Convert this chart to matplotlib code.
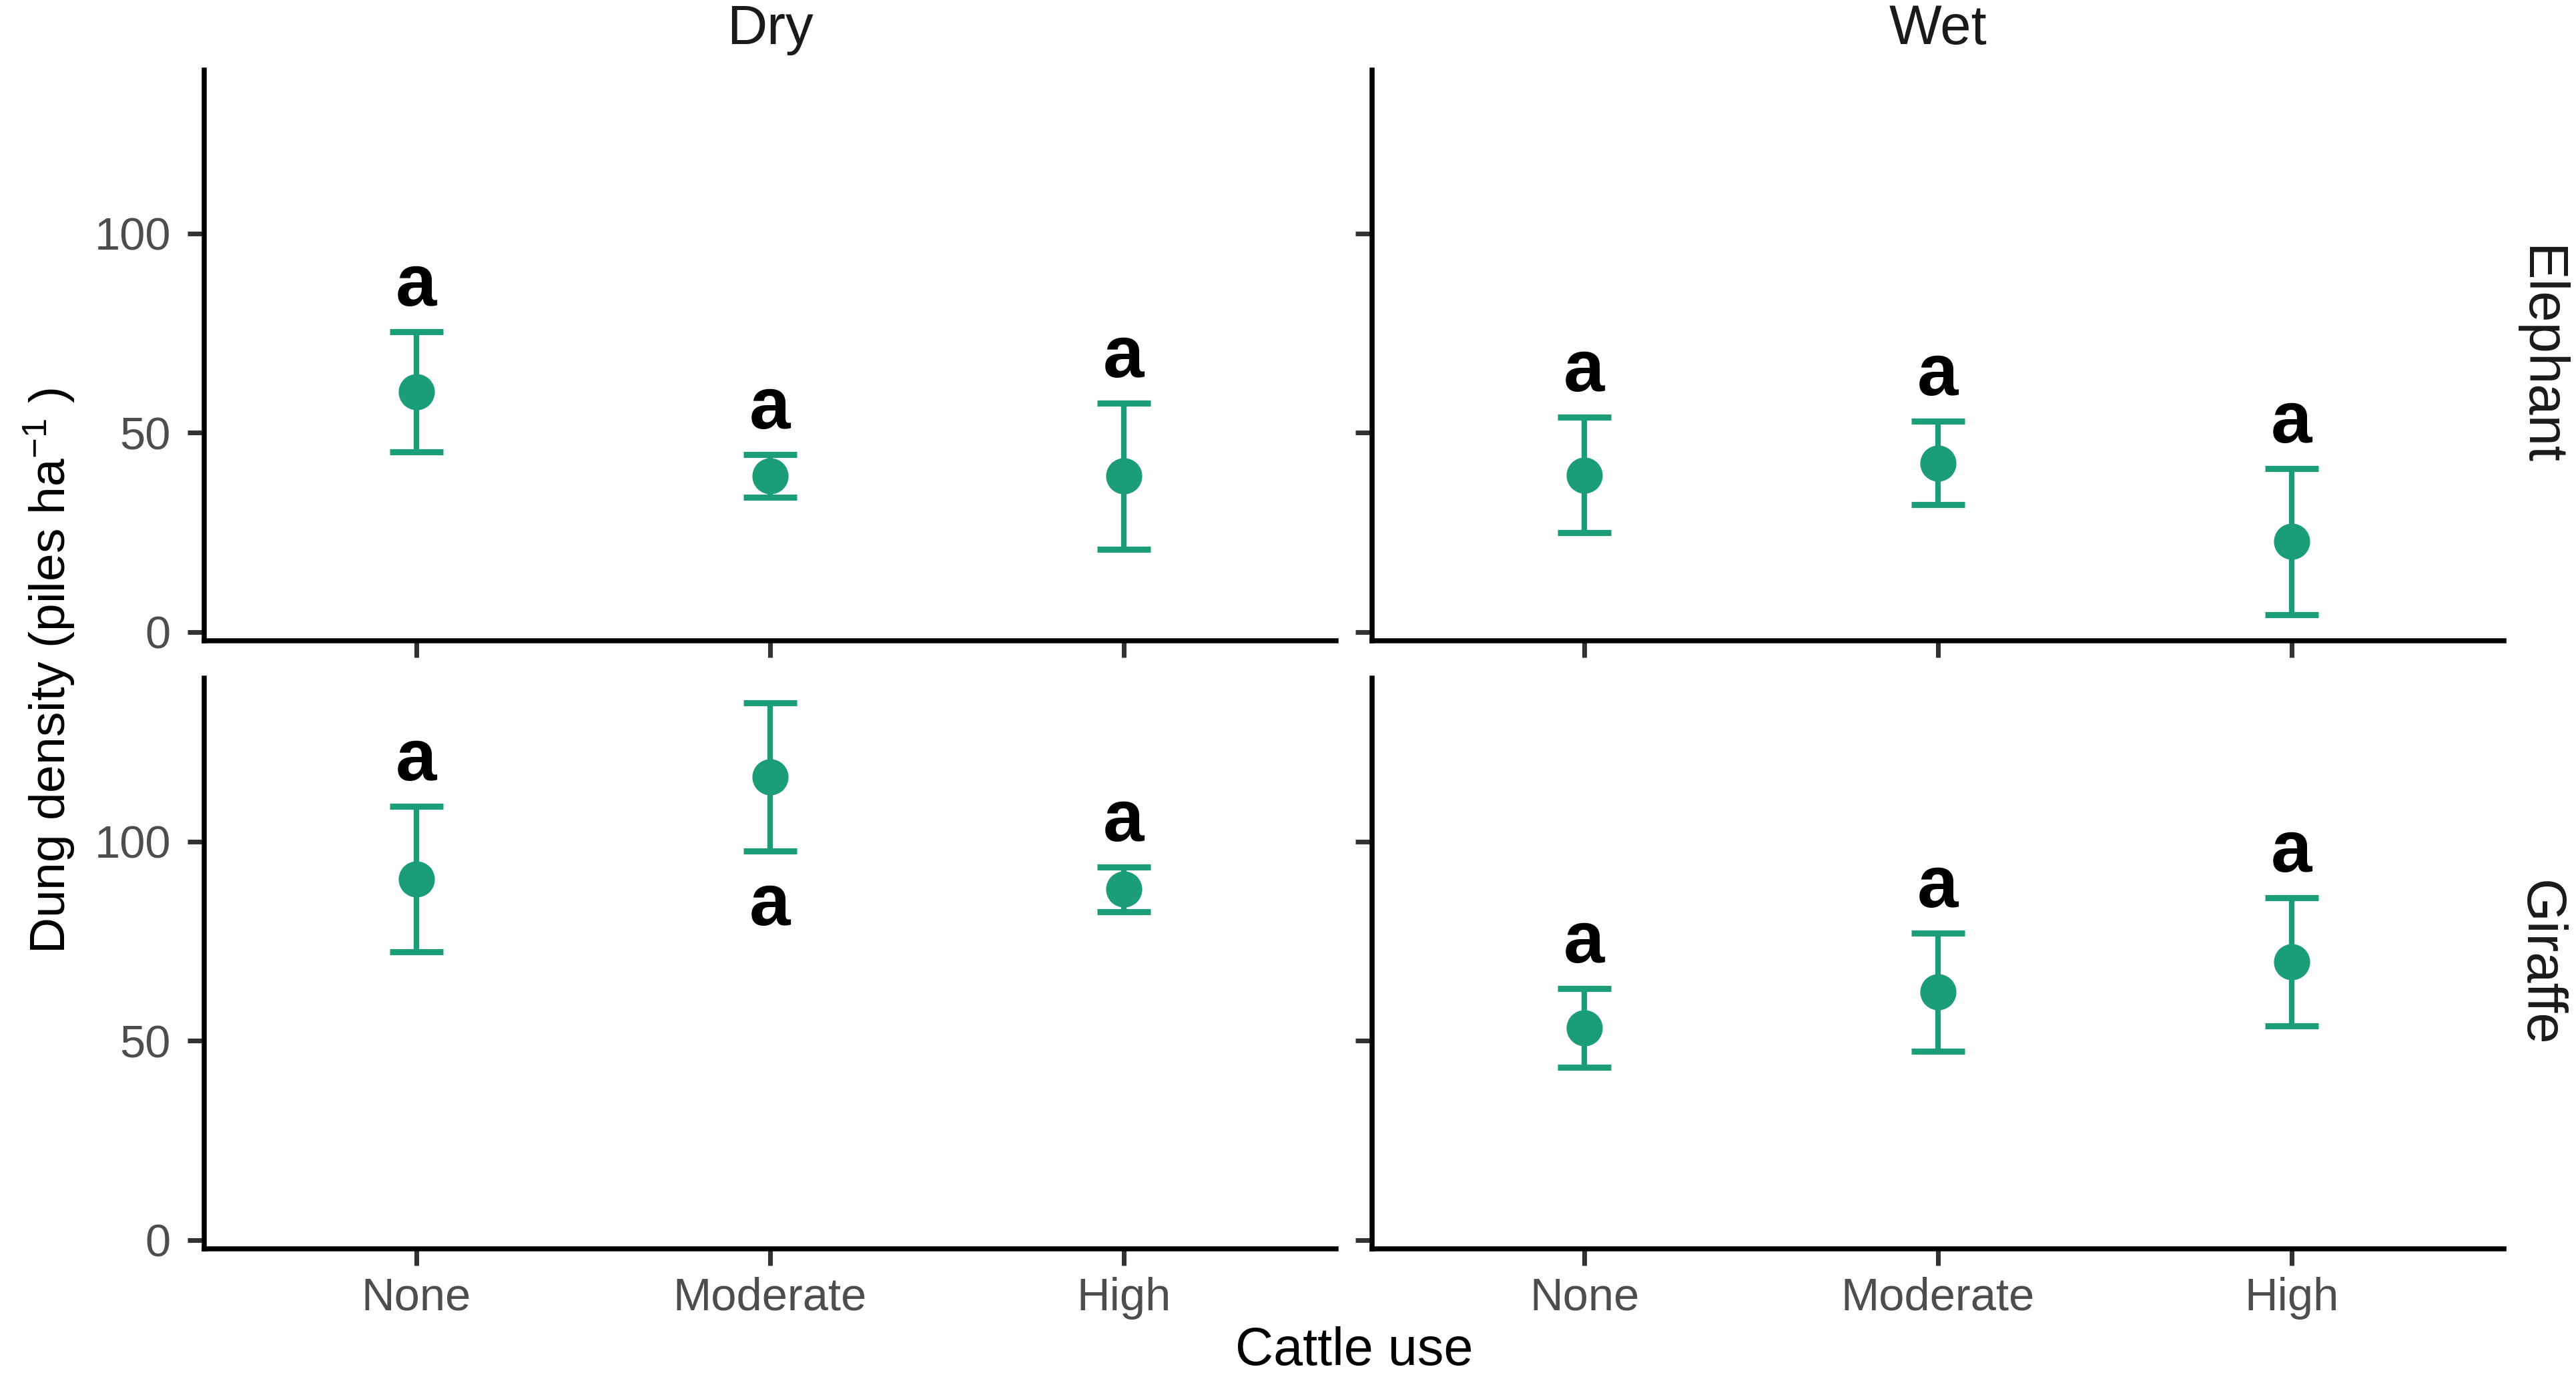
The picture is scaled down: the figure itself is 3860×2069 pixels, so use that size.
import numpy as np
import matplotlib
matplotlib.use("Agg")
import matplotlib.pyplot as plt

plt.rcParams['font.family'] = ['Liberation Sans', 'DejaVu Sans']
plt.rcParams['mathtext.default'] = 'regular'

# data (dung piles per ha, mean +/- se)
cattle = ['None', 'Moderate', 'High']
seasons = ['Dry', 'Wet']
species = ['Elephant', 'Giraffe']

dry_elephant_mean = [60.3, 39.2, 39.1]
dry_elephant_se = [15.1, 5.4, 18.3]
wet_elephant_mean = [39.4, 42.4, 22.7]
wet_elephant_se = [14.5, 10.5, 18.3]
dry_giraffe_mean = [90.6, 116.2, 88.0]
dry_giraffe_se = [18.3, 18.6, 5.6]
wet_giraffe_mean = [53.2, 62.2, 69.8]
wet_giraffe_se = [9.9, 14.8, 16.1]

letters = {('Dry', 'Elephant'): ['a', 'a', 'a'],
           ('Wet', 'Elephant'): ['a', 'a', 'a'],
           ('Dry', 'Giraffe'): ['a', 'a', 'a'],
           ('Wet', 'Giraffe'): ['a', 'a', 'a']}
# letter drawn under the bar instead of above
below = {('Dry', 'Giraffe'): [False, True, False]}

panels = {('Dry', 'Elephant'): (dry_elephant_mean, dry_elephant_se),
          ('Wet', 'Elephant'): (wet_elephant_mean, wet_elephant_se),
          ('Dry', 'Giraffe'): (dry_giraffe_mean, dry_giraffe_se),
          ('Wet', 'Giraffe'): (wet_giraffe_mean, wet_giraffe_se)}

green = '#1B9E77'
W, H = 3861, 2069
fig = plt.figure(figsize=(W / 300, H / 300), dpi=300)

xl = {'Dry': 306, 'Wet': 2056}
pw = 1696
yt = {'Elephant': 105, 'Giraffe': 1016}
ph = 855

x = np.arange(1, 4)
for sp in species:
    for se_name in seasons:
        ax = fig.add_axes([xl[se_name] / W, 1 - (yt[sp] + ph) / H, pw / W, ph / H])
        mean, se = panels[(se_name, sp)]
        mean = np.array(mean)
        se = np.array(se)
        ax.errorbar(x, mean, yerr=se, fmt='o', color=green, ms=12,
                    elinewidth=2.0, capsize=9.7, capthick=2.2)
        bl = below.get((se_name, sp), [False] * 3)
        for i in range(3):
            if bl[i]:
                yy = mean[i] - se[i] - 18.5
            else:
                yy = mean[i] + se[i] + 6.5
            ax.text(x[i], yy, letters[(se_name, sp)][i], ha='center', va='baseline',
                    fontsize=26.5, fontweight='bold', color='black')
        ax.set_xlim(0.4, 3.6)
        ax.set_ylim(-2.2, 141)
        ax.set_xticks(x)
        ax.set_yticks([0, 50, 100])
        for s in ['top', 'right']:
            ax.spines[s].set_visible(False)
        for s in ['left', 'bottom']:
            ax.spines[s].set_linewidth(1.8)
        ax.tick_params(length=6, width=1.7, color='#333333', labelsize=16.5,
                       labelcolor='#4D4D4D', pad=6)
        ax.tick_params(axis='x', pad=4)
        if sp == 'Giraffe':
            ax.set_xticklabels(cattle)
        else:
            ax.set_xticklabels([])
        if se_name == 'Wet':
            ax.set_yticklabels([])
        if sp == 'Elephant':
            ax.text(0.5, 1 + 61 / ph, se_name, transform=ax.transAxes, ha='center',
                    va='center', fontsize=20, color='#1A1A1A')
        if se_name == 'Wet':
            ax.text(1 + 53 / pw, 0.5, sp, transform=ax.transAxes, ha='center',
                    va='center', rotation=-90, fontsize=20, color='#1A1A1A')

fig.text(2029 / W, 1 - 2025 / H, 'Cattle use', ha='center', va='center', fontsize=19)
fig.text(74 / W, 1 - 1005 / H, 'Dung density (piles ha$^{-1}$ )', ha='center',
         va='center', rotation=90, fontsize=18)

fig.savefig('out.png', dpi=300)
